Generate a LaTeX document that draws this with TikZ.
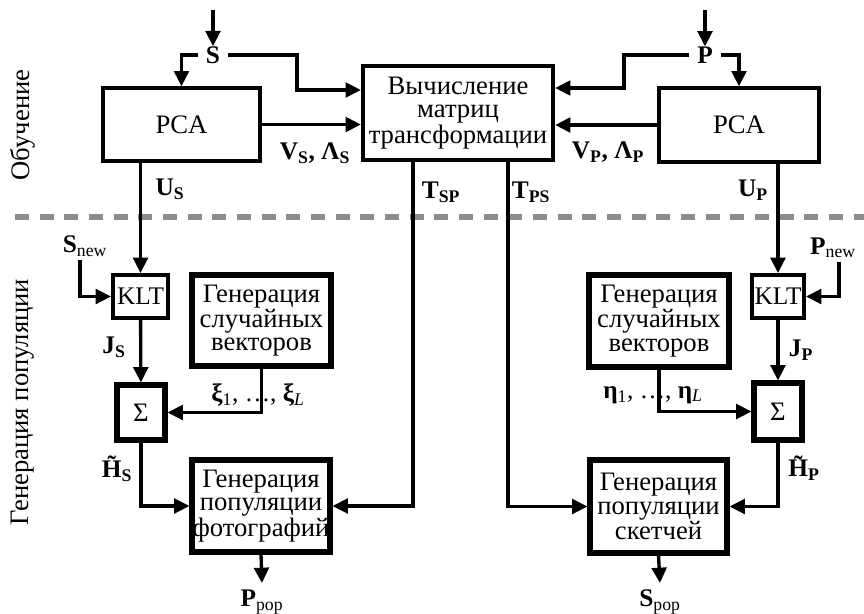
\documentclass[tikz,border=0pt]{standalone}
\usepackage{fontspec}
\setmainfont{Liberation Serif}
\usetikzlibrary{arrows.meta,positioning}

\newcommand{\boxfont}{\fontsize{20}{17.5}\selectfont}
\newcommand{\labfont}{\fontsize{19}{19}\selectfont\bfseries}
\newcommand{\vsub}[2]{#1\textsubscript{#2}}

\begin{document}
\begin{tikzpicture}[x=0.75pt,y=-0.75pt,
    >={Triangle[length=11.5pt,width=11pt]},
    box/.style={draw,line width=2.5pt,inner sep=0pt,align=center,font=\boxfont},
    heavy/.style={box,line width=3.8pt},
    blksize/.style 2 args={minimum width=#1*0.75pt,minimum height=#2*0.75pt},
    lab/.style={font=\labfont,inner sep=0pt},
    flow/.style={line width=2.5pt}]
  \useasboundingbox (0,0) rectangle (864,614);

  % divider between the two stages
  \draw[black!45,line width=4.5pt,dash pattern=on 10.5pt off 8pt] (15,217) -- (864,217);

  \node[rotate=90,font=\boxfont] (learn) at (23,125) {Обучение};
  \node[rotate=90,font=\boxfont] (popgen) at (23,402) {Генерация популяции};

  % training
  \node[box,blksize={157}{73}] (pcaS) at (181.5,124.5) {PCA};
  \node[box,blksize={160}{74}] (pcaP) at (739,125) {PCA};
  \node[box,line width=3.2pt,blksize={190}{94}] (calc) at (458,113)
    {Вычисление\\матриц\\трансформации};

  \node[lab,inner xsep=6pt] (sIn) at (213,55) {S};
  \node[lab,inner xsep=6pt] (pIn) at (705,55) {P};
  \coordinate (sTop) at (213,10);
  \coordinate (pTop) at (705,10);
  \coordinate (sKnee) at (297,90);
  \coordinate (pKnee) at (624,88);

  \draw[flow,->] (sTop) -- (sIn);
  \draw[flow,->] (pTop) -- (pIn);
  \draw[flow,->] (sIn.west) -| (pcaS.north);
  \draw[flow,->] (sIn.east) -| (sKnee) -- (sKnee -| calc.west);
  \draw[flow,->] (pIn.east) -| (pcaP.north);
  \draw[flow,->] (pIn.west) -| (pKnee) -- (pKnee -| calc.east);
  \draw[flow,->] (pcaS.east) -- (pcaS.east -| calc.west);
  \draw[flow,->] (pcaP.west) -- (pcaP.west -| calc.east);

  \node[lab] (vsLab) at (315,153) {\vsub{V}{S}, \vsub{Λ}{S}};
  \node[lab] (vpLab) at (608,152) {\vsub{V}{P}, \vsub{Λ}{P}};
  \node[lab] (usLab) at (170,189) {\vsub{U}{S}};
  \node[lab] (upLab) at (753,190) {\vsub{U}{P}};
  \node[lab] (tspLab) at (441,192) {\vsub{T}{SP}};
  \node[lab] (tpsLab) at (531,192) {\vsub{T}{PS}};

  % population generation
  \node[box,line width=3pt,blksize={55}{43},font=\fontsize{19}{19}\selectfont] (kltS) at (140.5,296.5) {KLT};
  \node[box,line width=3pt,blksize={52}{43},font=\fontsize{19}{19}\selectfont] (kltP) at (778,296.5) {KLT};
  \node[heavy,blksize={139}{91}] (rndS) at (261.5,320.5) {Генерация\\случайных\\векторов};
  \node[heavy,blksize={140}{92}] (rndP) at (659,321) {Генерация\\случайных\\векторов};
  \node[heavy,blksize={48}{55}] (sumS) at (141,412.5) {Σ};
  \node[heavy,blksize={48}{57}] (sumP) at (778,411.5) {Σ};
  \node[heavy,blksize={138}{92}] (photo) at (261,506) {Генерация\\популяции\\фотографий};
  \node[heavy,blksize={137}{93}] (sketch) at (658.5,506.5) {Генерация\\популяции\\скетчей};

  \node[lab,inner ysep=3pt] (sNew) at (85,246) {S\textsubscript{\mdseries new}};
  \node[lab,inner ysep=3pt] (pNew) at (833,248) {P\textsubscript{\mdseries new}};
  \node[lab] (jsLab) at (114,347) {\vsub{J}{S}};
  \node[lab] (jpLab) at (801,350) {\vsub{J}{P}};
  \node[lab] (xiLab) at (258,395) {\vsub{ξ}{\mdseries 1}{\mdseries, \dots,} \vsub{ξ}{\mdseries\itshape L}};
  \node[lab] (etaLab) at (653,395) {\vsub{η}{\mdseries 1}{\mdseries, \dots,} \vsub{η}{\mdseries\itshape L}};
  \node[lab] (hsLab) at (117,469) {\vsub{\~{H}}{S}};
  \node[lab] (hpLab) at (804,468) {\vsub{\~{H}}{P}};

  \coordinate (tspTop) at ([xshift=-33.75pt]calc.south);
  \coordinate (tpsTop) at ([xshift=37.5pt]calc.south);
  \coordinate (pOut) at (262,583);
  \coordinate (sOut) at (660,583);
  \node[lab] (pPop) at (262,602) {P\textsubscript{\mdseries pop}};
  \node[lab] (sPop) at (660,602) {S\textsubscript{\mdseries pop}};

  \draw[flow,->] (kltS.north |- pcaS.south) -- (kltS.north);
  \draw[flow,->] (kltP.north |- pcaP.south) -- (kltP.north);
  \draw[flow,->] ([xshift=-3.75pt]sNew.south) |- (kltS.west);
  \draw[flow,->] ([xshift=4.5pt]pNew.south) |- (kltP.east);
  \draw[flow,->] (kltS) -- (sumS);
  \draw[flow,->] (kltP) -- (sumP);
  \draw[flow,->] (rndS.south) |- (sumS.east);
  \draw[flow,->] (rndP.south) |- (sumP.west);
  \draw[flow,->] (sumS.south) |- (photo.west);
  \draw[flow,->] (sumP.south) |- (sketch.east);
  \draw[flow,->] (tspTop) |- (photo.east);
  \draw[flow,->] (tpsTop) |- (sketch.west);
  \draw[flow,->] (photo.south) -- (pOut);
  \draw[flow,->] (sketch.south) -- (sOut);
\end{tikzpicture}
\end{document}
